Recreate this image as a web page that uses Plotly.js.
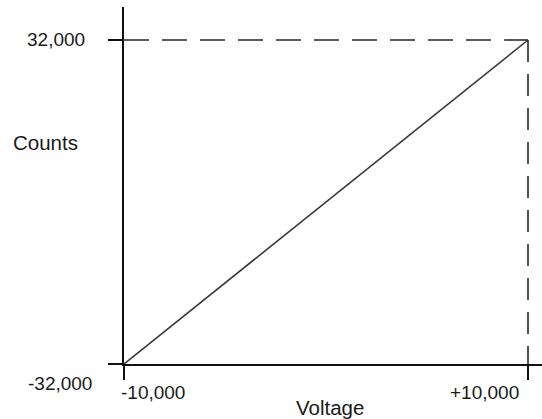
<!DOCTYPE html>
<html><head><meta charset="utf-8">
<script src="https://cdn.plot.ly/plotly-3.0.1.min.js"></script>
<style>html,body{margin:0;padding:0;background:#fff;}#chart{width:542px;height:419px;}</style>
</head><body><div id="chart"></div>
<script>
// Data
var voltage = [-10000, 10000];
var counts = [-32000, 32000];
var xTickVals = [-10000, 10000];
var xTickText = ['-10,000', '+10,000'];
var yTickVals = [-32000, 32000];
var yTickText = ['-32,000', '32,000'];
var xTitle = 'Voltage';
var yTitle = 'Counts';

var xMin = voltage[0], xMax = voltage[voltage.length - 1];
var yMin = counts[0], yMax = counts[counts.length - 1];

var font = {family: 'Liberation Sans, Arial, sans-serif', size: 19, color: '#1a1a1a'};
var titleFont = {family: 'Liberation Sans, Arial, sans-serif', size: 20.5, color: '#1a1a1a'};

var traces = [
  {x: voltage, y: counts, mode: 'lines', line: {color: '#3a3a3a', width: 1.6}, hoverinfo: 'none'},
  {x: [xMin, xMax], y: [yMax, yMax], mode: 'lines', line: {color: '#2a2a2a', width: 1.6, dash: '25px,13px'}, hoverinfo: 'none'},
  {x: [xMax, xMax], y: [yMax, yMin], mode: 'lines', line: {color: '#2a2a2a', width: 1.6, dash: '22px,12px'}, hoverinfo: 'none'}
];

// pixel geometry -> ranges
var plotW = 418, plotH = 357;
var xSpan = (xMax - xMin) * plotW / 404;
var ySpan = (yMax - yMin) * plotH / 324;

var ann = [
  {x: xMin, y: yMax, text: yTickText[1], xanchor: 'right', yanchor: 'middle', xshift: -39, yshift: 1, font: font},
  {x: xMin, y: yMin, text: yTickText[0], xanchor: 'right', yanchor: 'middle', xshift: -32, yshift: -19, font: font},
  {x: xTickVals[0], y: yMin, text: xTickText[0], xanchor: 'left', yanchor: 'middle', xshift: -3, yshift: -28, font: font},
  {x: xTickVals[1], y: yMin, text: xTickText[1], xanchor: 'right', yanchor: 'middle', xshift: -9, yshift: -28, font: font},
  {x: 0.5 * (xMin + xMax), y: yMin, text: xTitle, xanchor: 'center', yanchor: 'middle', xshift: 4, yshift: -43, font: titleFont},
  {x: xMin, y: yMin + (yMax - yMin) * (364 - 142) / 324, text: yTitle, xanchor: 'left', yanchor: 'middle', xshift: -111, font: titleFont}
].map(function (a) {
  a.showarrow = false; a.xref = 'x'; a.yref = 'y'; a.borderpad = 0; a.borderwidth = 0;
  return a;
});

var layout = {
  width: 542, height: 419,
  margin: {l: 124, r: 0, t: 7, b: 55},
  paper_bgcolor: '#fff', plot_bgcolor: '#fff',
  showlegend: false,
  font: font,
  xaxis: {
    range: [xMin, xMin + xSpan], showgrid: false, zeroline: false,
    showline: true, linecolor: '#111', linewidth: 1.6,
    tickmode: 'array', tickvals: xTickVals, showticklabels: false,
    ticks: 'outside', ticklen: 14, tickwidth: 1.6, tickcolor: '#111'
  },
  yaxis: {
    range: [yMin, yMin + ySpan], showgrid: false, zeroline: false,
    showline: true, linecolor: '#111', linewidth: 1.6,
    tickmode: 'array', tickvals: yTickVals, showticklabels: false,
    ticks: 'outside', ticklen: 14, tickwidth: 1.6, tickcolor: '#111'
  },
  annotations: ann
};

Plotly.newPlot('chart', traces, layout, {staticPlot: true, displayModeBar: false});
</script></body></html>
